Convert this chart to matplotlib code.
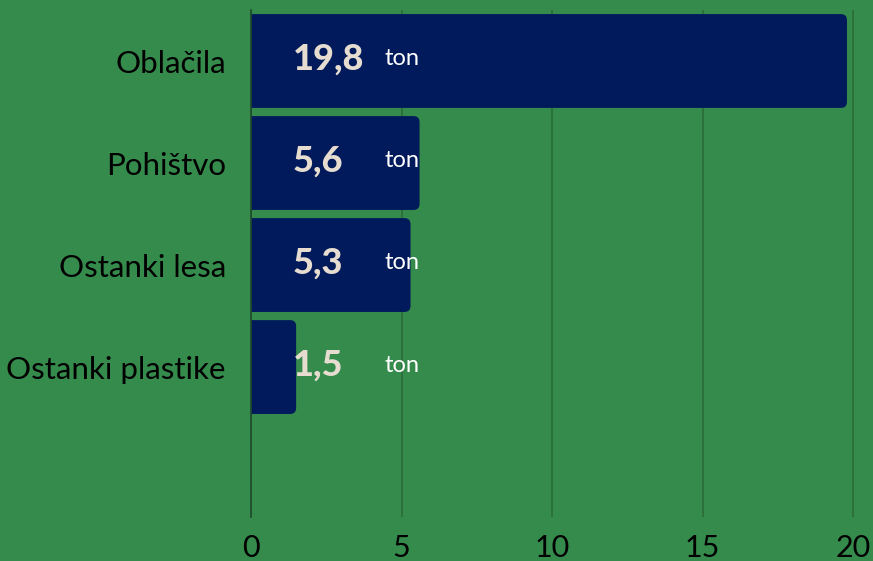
import matplotlib.pyplot as plt
from matplotlib.patches import FancyBboxPatch

# Data
categories = ['Oblačila', 'Pohištvo', 'Ostanki lesa', 'Ostanki plastike']
values = [19.8, 5.6, 5.3, 1.5]
value_labels = ['19,8', '5,6', '5,3', '1,5']
unit = 'ton'
xticks = [0, 5, 10, 15, 20]

bg = '#358b4b'
bar_color = '#001a5c'
grid_color = '#2b6c3a'

plt.rcParams['font.family'] = ['Lato', 'DejaVu Sans']

fig = plt.figure(figsize=(8.73, 5.61), dpi=100, facecolor=bg)
ax = fig.add_axes([251 / 873, 1 - 517 / 561, 1 - 251 / 873, (517 - 10) / 561])
ax.set_facecolor(bg)

ypos = list(range(len(categories)))
bars = ax.barh(ypos, values, height=0.92, color=bar_color)

# replace plain rectangles with right-rounded ones (left side clipped by axes)
for b in bars:
    x0, y0 = b.get_x(), b.get_y()
    w, h = b.get_width(), b.get_height()
    b.set_visible(False)
    p = FancyBboxPatch((x0 - 0.4, y0), w + 0.4, h,
                       boxstyle='round,pad=0,rounding_size=0.2',
                       mutation_aspect=0.3, facecolor=bar_color,
                       edgecolor='none', zorder=2)
    ax.add_patch(p)

for y, lab in zip(ypos, value_labels):
    ax.text(1.38, y - 0.02, lab, ha='left', va='center', fontsize=26,
            fontweight='black', color='#e6ddd0', zorder=3)
    ax.text(4.45, y - 0.02, unit, ha='left', va='center', fontsize=17,
            color='white', zorder=3)

ax.set_xlim(0, (873 - 251) / 30.1)
ax.set_ylim(4.47, -0.5)
ax.set_xticks(xticks)
ax.set_xticklabels([str(t) for t in xticks])
ax.set_yticks(ypos)
ax.set_yticklabels(categories)
ax.tick_params(axis='x', length=0, pad=12, labelsize=22, colors='black')
ax.tick_params(axis='y', length=0, pad=18, labelsize=22.5, colors='black')

ax.grid(axis='x', color=grid_color, linewidth=1.2, zorder=0)
ax.set_axisbelow(True)
for s in ['top', 'right', 'bottom']:
    ax.spines[s].set_visible(False)
ax.spines['left'].set_color('#1f4a2a')
ax.spines['left'].set_linewidth(1.2)

fig.savefig('out.png', dpi=100, facecolor=bg)
